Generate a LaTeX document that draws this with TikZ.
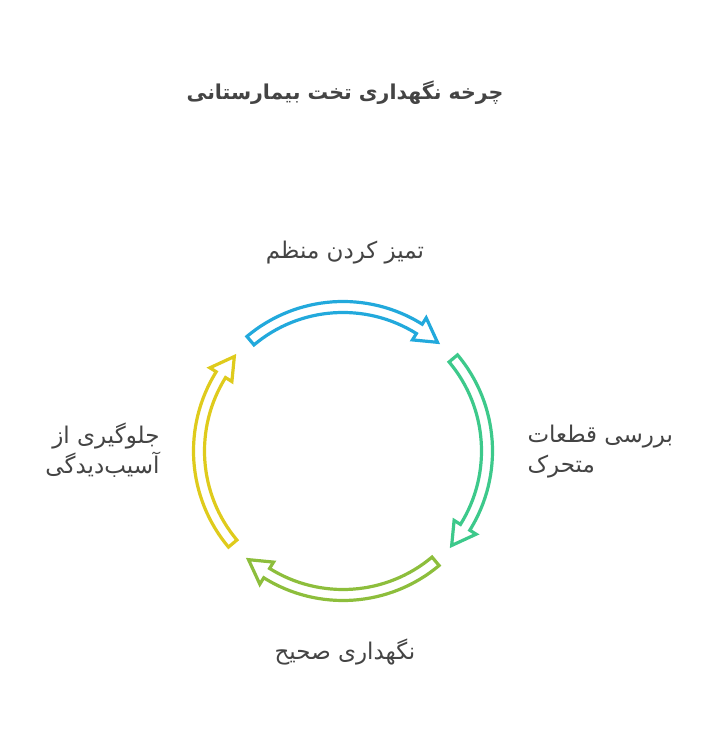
\documentclass[tikz,border=0pt]{standalone}
\usepackage{fontspec}
\usepackage{tikz}
\usetikzlibrary{calc}
\newfontfamily\persianfont[Script=Arabic]{DejaVu Sans}
\TeXXeTstate=1
\definecolor{textgray}{HTML}{444444}
\definecolor{cleanblue}{HTML}{22A9DC}
\definecolor{checkgreen}{HTML}{3DC98B}
\definecolor{careolive}{HTML}{8DBE3C}
\definecolor{guardyellow}{HTML}{DFCB1C}

% hollow arc arrow: colour, tail angle, tip angle (clockwise)
\newcommand{\cyclearrow}[3]{%
  \draw[arcarrow,draw=#1] ($(C)+(#2:149.5)$) arc[start angle=#2, end angle=#3+9, radius=149.5]
    -- ($(C)+(#3+9:157)$) -- ($(C)+(#3:144)$) -- ($(C)+(#3+9:131)$) -- ($(C)+(#3+9:138.5)$)
    arc[start angle=#3+9, end angle=#2, radius=138.5] -- cycle;}

\begin{document}
\begin{tikzpicture}[x=1pt,y=1pt]
        % Styles
        \tikzstyle{arcarrow}=[line width=3.2pt, line join=miter, fill=white];
        \tikzstyle{steplabel}=[text=textgray, font=\persianfont\fontsize{23}{30}\selectfont];

        \useasboundingbox (0,0) rectangle (723,741);

        % Centre of the cycle
        \coordinate (C) at (343,290);

        % Title
        \node[text=textgray, font=\persianfont\bfseries\fontsize{20.5}{24}\selectfont] (title) at (345,648) {\beginR چرخه نگهداری تخت بیمارستانی\endR};

        % Four arrows of the cycle
        \cyclearrow{cleanblue}{130}{49}
        \cyclearrow{checkgreen}{40}{-41}
        \cyclearrow{careolive}{-50}{-131}
        \cyclearrow{guardyellow}{-140}{-221}

        % Labels of the steps
        \node[steplabel] (clean) at (345,488) {\beginR تمیز کردن منظم\endR};
        \node[steplabel, align=left, anchor=west] (check) at (524,289) {\beginR بررسی قطعات\endR\\\beginR متحرک\endR};
        \node[steplabel] (care) at (345,89) {\beginR نگهداری صحیح\endR};
        \node[steplabel, align=right, anchor=east] (guard) at (163,291) {\beginR جلوگیری از\endR\\\beginR آسیب‌دیدگی\endR};

    \end{tikzpicture}
\end{document}
